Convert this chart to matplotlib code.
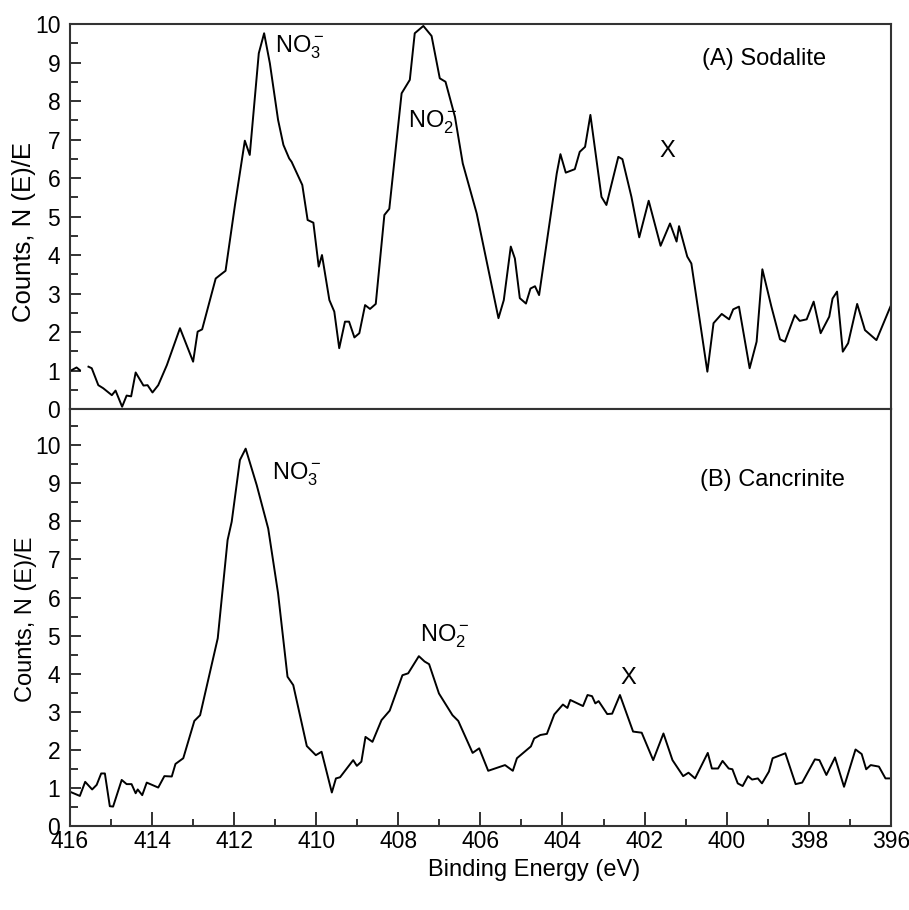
import numpy as np
import matplotlib
matplotlib.use("Agg")
from matplotlib import pyplot as plt
from matplotlib.ticker import MultipleLocator

plt.rcParams['font.family'] = ['Liberation Sans', 'DejaVu Sans']
plt.rcParams['mathtext.fontset'] = 'custom'
plt.rcParams['mathtext.rm'] = 'Liberation Sans'
plt.rcParams['mathtext.it'] = 'Liberation Sans:italic'
plt.rcParams['mathtext.bf'] = 'Liberation Sans:bold'

# (A) Sodalite - 読み取り値 (NaN は途切れ)
top_energy = [415.96, 415.84, 415.76, 415.66, 415.55, 415.47, 415.31, 415.19, 414.98, 414.89,
              414.73, 414.62, 414.51, 414.40, 414.21, 414.11, 413.99, 413.85, 413.64, 413.32,
              413.00, 412.89, 412.78, 412.45, 412.32, 412.21, 411.98, 411.74, 411.62, 411.40,
              411.27, 411.13, 410.93, 410.80, 410.66, 410.60, 410.34, 410.21, 410.07, 409.94,
              409.86, 409.68, 409.56, 409.44, 409.30, 409.20, 409.07, 408.95, 408.81, 408.69,
              408.55, 408.34, 408.22, 407.92, 407.72, 407.60, 407.39, 407.19, 406.99, 406.85,
              406.62, 406.43, 406.09, 405.56, 405.43, 405.26, 405.16, 405.04, 404.89, 404.78,
              404.67, 404.57, 404.14, 404.05, 403.92, 403.70, 403.58, 403.45, 403.32, 403.05,
              402.93, 402.64, 402.54, 402.32, 402.13, 401.90, 401.61, 401.38, 401.22, 401.16,
              400.96, 400.86, 400.47, 400.32, 400.12, 399.94, 399.84, 399.70, 399.44, 399.27,
              399.13, 398.91, 398.70, 398.58, 398.34, 398.22, 398.05, 397.88, 397.71, 397.50,
              397.42, 397.31, 397.17, 397.04, 396.82, 396.63, 396.35, 396.01]
top_counts = [1.01, 1.08, 1.01, np.nan, 1.10, 1.06, 0.62, 0.54, 0.36, 0.48,
              0.06, 0.35, 0.33, 0.95, 0.61, 0.62, 0.43, 0.62, 1.14, 2.10,
              1.23, 2.01, 2.07, 3.39, 3.50, 3.59, 5.30, 6.97, 6.60, 9.24,
              9.76, 8.98, 7.51, 6.86, 6.51, 6.42, 5.82, 4.91, 4.84, 3.70,
              4.00, 2.83, 2.53, 1.58, 2.27, 2.27, 1.86, 1.97, 2.70, 2.60,
              2.73, 5.04, 5.20, 8.20, 8.55, 9.76, 9.95, 9.69, 8.59, 8.50,
              7.59, 6.38, 5.08, 2.36, 2.83, 4.22, 3.91, 2.88, 2.74, 3.13,
              3.19, 2.96, 6.12, 6.62, 6.14, 6.23, 6.68, 6.81, 7.64, 5.51,
              5.30, 6.55, 6.49, 5.51, 4.46, 5.41, 4.24, 4.82, 4.35, 4.75,
              3.96, 3.78, 0.97, 2.23, 2.47, 2.33, 2.59, 2.66, 1.06, 1.75,
              3.63, 2.66, 1.81, 1.75, 2.44, 2.29, 2.33, 2.79, 1.97, 2.40,
              2.87, 3.05, 1.49, 1.71, 2.73, 2.05, 1.79, 2.66]

# (B) Cancrinite - 読み取り値
bot_energy = [416.00, 415.76, 415.63, 415.46, 415.35, 415.24, 415.15, 415.03, 414.95, 414.74,
              414.62, 414.50, 414.40, 414.35, 414.24, 414.13, 413.85, 413.70, 413.52, 413.43,
              413.24, 412.97, 412.83, 412.40, 412.16, 412.06, 411.86, 411.72, 411.45, 411.17,
              410.93, 410.70, 410.56, 410.23, 410.01, 409.87, 409.62, 409.52, 409.42, 409.10,
              409.01, 408.90, 408.80, 408.63, 408.41, 408.21, 407.90, 407.76, 407.50, 407.36,
              407.25, 407.01, 406.68, 406.54, 406.19, 406.03, 405.81, 405.40, 405.21, 405.11,
              404.77, 404.69, 404.54, 404.38, 404.20, 403.99, 403.88, 403.81, 403.50, 403.39,
              403.28, 403.20, 403.12, 402.91, 402.79, 402.60, 402.28, 402.07, 401.79, 401.54,
              401.32, 401.06, 400.93, 400.77, 400.46, 400.36, 400.21, 400.10, 399.95, 399.86,
              399.73, 399.61, 399.48, 399.38, 399.24, 399.14, 398.97, 398.88, 398.57, 398.32,
              398.16, 397.85, 397.74, 397.57, 397.36, 397.14, 396.86, 396.71, 396.60, 396.49,
              396.29, 396.13, 396.01]
bot_counts = [0.90, 0.79, 1.16, 0.96, 1.08, 1.38, 1.38, 0.52, 0.51, 1.21,
              1.10, 1.10, 0.86, 0.96, 0.81, 1.14, 1.01, 1.31, 1.30, 1.63,
              1.78, 2.76, 2.91, 4.93, 7.51, 7.99, 9.61, 9.91, 8.95, 7.81,
              6.11, 3.92, 3.70, 2.10, 1.86, 1.95, 0.88, 1.25, 1.28, 1.73,
              1.58, 1.69, 2.34, 2.21, 2.78, 3.03, 3.96, 4.01, 4.46, 4.32,
              4.25, 3.48, 2.91, 2.76, 1.92, 2.04, 1.45, 1.60, 1.45, 1.78,
              2.09, 2.30, 2.39, 2.42, 2.93, 3.19, 3.10, 3.31, 3.15, 3.44,
              3.41, 3.22, 3.28, 2.94, 2.95, 3.44, 2.48, 2.45, 1.73, 2.43,
              1.73, 1.31, 1.40, 1.25, 1.92, 1.51, 1.51, 1.71, 1.51, 1.49,
              1.12, 1.05, 1.31, 1.22, 1.25, 1.12, 1.43, 1.78, 1.91, 1.10,
              1.14, 1.75, 1.73, 1.34, 1.80, 1.03, 2.01, 1.89, 1.49, 1.60,
              1.56, 1.25, 1.25]

y_label = "Counts, N (E)/E"
x_label = "Binding Energy (eV)"

fig = plt.figure(figsize=(9.09, 9.10), dpi=100)
ax1 = fig.add_axes([0.077, 0.5505, 0.903, 0.4231])
ax2 = fig.add_axes([0.077, 0.0923, 0.903, 0.4582])

for ax in (ax1, ax2):
    ax.set_xlim(416, 396)
    ax.xaxis.set_major_locator(MultipleLocator(2))
    ax.xaxis.set_minor_locator(MultipleLocator(1))
    ax.yaxis.set_major_locator(MultipleLocator(1))
    ax.yaxis.set_minor_locator(MultipleLocator(0.5))
    ax.tick_params(which='both', direction='in', top=False, right=False,
                   labelsize=16.5, width=1.3, color='#222222')
    ax.tick_params(which='major', length=8, pad=7)
    ax.tick_params(which='minor', length=6)
    for sp in ax.spines.values():
        sp.set_linewidth(1.5)
        sp.set_color('#333333')

ax1.plot(top_energy, top_counts, color='black', linewidth=1.4)
ax2.plot(bot_energy, bot_counts, color='black', linewidth=1.4)

ax1.set_ylim(0, 10)
ax2.set_ylim(0, 10.95)
ax1.tick_params(axis='x', which='both', bottom=False, labelbottom=False)
ax2.tick_params(axis='x', which='major', length=10, pad=3)
ax2.tick_params(axis='x', which='minor', length=5)

ax1.set_yticks(range(0, 11))
ax2.set_yticks(range(0, 11))

# 上段のラベルは元図で少し長い
ax1.set_ylabel(y_label, fontsize=18.5)
ax2.set_ylabel(y_label, fontsize=17)
ax1.yaxis.set_label_coords(-0.042, 0.46)
ax2.yaxis.set_label_coords(-0.040, 0.495)

ax2.set_xlabel(x_label, fontsize=17)
ax2.xaxis.set_label_coords(0.566, -0.078)

# ピークのラベル
fs = 17
ax1.text(411.0, 9.25, r"NO$_3^-$", fontsize=fs, ha='left', va='baseline')
ax1.text(407.76, 7.32, r"NO$_2^-$", fontsize=fs, ha='left', va='baseline')
ax1.text(401.44, 6.54, "X", fontsize=fs, ha='center', va='baseline')
ax1.text(400.59, 8.94, "(A) Sodalite", fontsize=fs, ha='left', va='baseline')

ax2.text(411.09, 9.11, r"NO$_3^-$", fontsize=fs, ha='left', va='baseline')
ax2.text(407.47, 4.84, r"NO$_2^-$", fontsize=fs, ha='left', va='baseline')
ax2.text(402.39, 3.73, "X", fontsize=fs, ha='center', va='baseline')
ax2.text(400.65, 8.92, "(B) Cancrinite", fontsize=fs, ha='left', va='baseline')

plt.savefig("out.png", dpi=100)
plt.close()
